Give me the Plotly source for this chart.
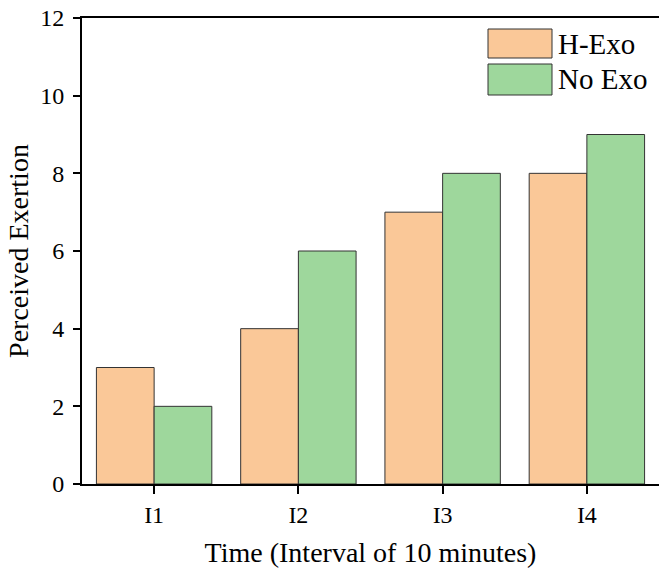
import plotly.graph_objects as go

categories = ["I1", "I2", "I3", "I4"]
h_exo = [3, 4, 7, 8]
no_exo = [2, 6, 8, 9]
series_names = ["H-Exo", "No Exo"]
colors = ["#FAC898", "#9ED79C"]
y_ticks = [0, 2, 4, 6, 8, 10, 12]

FONT = "Liberation Serif, Times New Roman, serif"

fig = go.Figure()
for name, vals, col in zip(series_names, [h_exo, no_exo], colors):
    fig.add_trace(go.Bar(
        x=categories, y=vals, name=name,
        marker=dict(color=col, line=dict(color="#333333", width=1)),
        showlegend=False,
    ))

# custom legend (large swatches like the reference)
L, T, W, H = 82, 18, 577, 466
def px(xp):
    return (xp - L) / W
def py(yp):
    return (T + H - yp) / H

swatches = [(29, 58), (64, 95)]
for (y0, y1), name, col in zip(swatches, series_names, colors):
    fig.add_shape(type="rect", xref="paper", yref="paper",
                  x0=px(488), x1=px(552), y0=py(y1), y1=py(y0),
                  fillcolor=col, line=dict(color="#333333", width=1))
    fig.add_annotation(xref="paper", yref="paper", x=px(556), y=py((y0 + y1) / 2),
                       text=name, showarrow=False, xanchor="left", yanchor="middle",
                       font=dict(family=FONT, size=29, color="black"))

fig.update_layout(
    width=659, height=570,
    margin=dict(l=L, r=659 - L - W, t=T, b=570 - T - H),
    plot_bgcolor="white", paper_bgcolor="white",
    barmode="group", bargap=0.2, bargroupgap=0,
    font=dict(family=FONT, color="black"),
    xaxis=dict(
        type="category", range=[-0.5, 3.5],
        showline=True, linecolor="black", linewidth=2, mirror=True,
        ticks="outside", ticklen=8, tickwidth=1.5, tickcolor="black",
        tickfont=dict(family=FONT, size=24, color="black"),
        showgrid=False,
        title=dict(text="Time (Interval of 10 minutes)", font=dict(family=FONT, size=28), standoff=16),
    ),
    yaxis=dict(
        range=[0, 12], tickvals=y_ticks,
        showline=True, linecolor="black", linewidth=2, mirror=False,
        ticks="outside", ticklen=7, tickwidth=1.5, tickcolor="black",
        ticklabelstandoff=4,
        tickfont=dict(family=FONT, size=24, color="black"),
        showgrid=False, zeroline=False,
        title=dict(text="Perceived Exertion", font=dict(family=FONT, size=28), standoff=3),
    ),
)

fig.write_html("out.html",
               config={"displayModeBar": False},
               post_script="document.body.style.margin='0';document.body.style.overflow='hidden';")
